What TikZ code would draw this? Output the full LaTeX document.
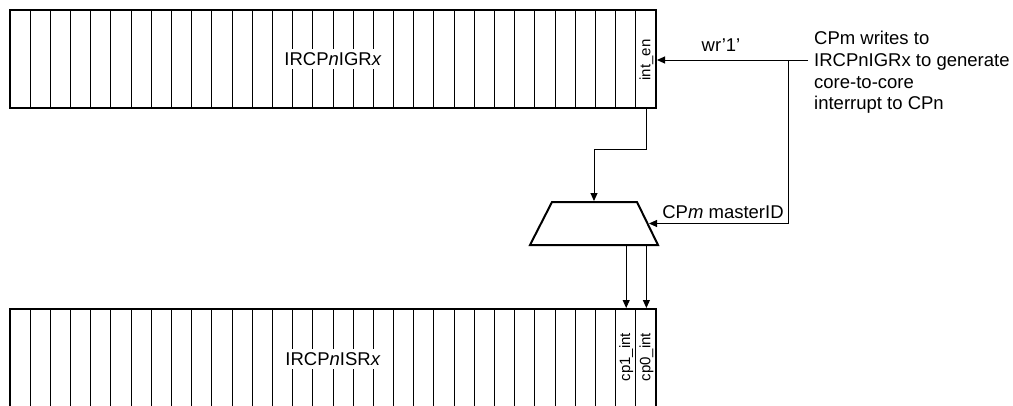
\documentclass[tikz,border=0pt]{standalone}
\usepackage{fontspec}
\setmainfont{Liberation Sans}
\usetikzlibrary{arrows.meta}
\begin{document}
\begin{tikzpicture}[x=1pt,y=-1pt,
  cellline/.style={line width=1pt},
  regbox/.style={draw,line width=2pt,inner sep=0pt,minimum width=646pt},
  conn/.style={line width=1pt,-{Triangle[length=8pt,width=7pt]}},
  muxshape/.style={draw,line width=2pt,line join=miter},
  lbl/.style={font=\fontsize{18.5}{21.7}\selectfont},
  namelbl/.style={lbl,fill=white,inner sep=3pt},
  bitlbl/.style={font=\fontsize{15}{18}\selectfont,rotate=90,inner sep=0pt}]
\useasboundingbox (0,0) rectangle (1013,405);
\begin{scope}
\clip (0,0) rectangle (1013,405);
% ---- top register IRCPnIGRx
\foreach \i in {1,...,31} \draw[cellline] ({10+\i*20.1875},10) -- ({10+\i*20.1875},108);
\node[namelbl] (igrname) at (333,59) {IRCP\textit{n}IGR\textit{x}};
\node[regbox,minimum height=98pt] (igr) at (333,59) {};
\node[bitlbl] (inten) at (646.4,60) {int\_en};
% ---- bottom register IRCPnISRx
\foreach \i in {1,...,31} \draw[cellline] ({10+\i*20.1875},309) -- ({10+\i*20.1875},420);
\node[namelbl] (isrname) at (333,359) {IRCP\textit{n}ISR\textit{x}};
\node[regbox,minimum height=111pt] (isr) at (333,364.5) {};
\node[bitlbl] (cpone) at (626.2,357) {cp1\_int};
\node[bitlbl] (cpzero) at (646.4,357) {cp0\_int};
\end{scope}
% ---- multiplexer
\coordinate (muxtop) at (594,202);
\coordinate (muxbot) at (594,245);
\coordinate (muxright) at (649,223.5);
\draw[muxshape] (552,202) -- (637,202) -- (658,245) -- (530,245) -- cycle;
% ---- connectors
\coordinate (src) at (808,60);
\coordinate (br) at (788,60);
\draw[conn] (src) -- (igr.east |- inten);
\draw[conn] (br) |- (muxright);
\draw[conn] (inten |- igr.south) -- ++(0,40) -| ([yshift=1pt]muxtop);
\draw[conn] (cpone |- muxbot) -- (cpone |- isr.north);
\draw[conn] (cpzero |- muxbot) -- (cpzero |- isr.north);
% ---- labels
\node[lbl] (wr) at (721,45) {wr’1’};
\node[lbl] (mid) at (723,212) {CP\textit{m} masterID};
\node[lbl,align=left,anchor=north west,inner sep=0pt] (note) at (814,31)
  {CPm writes to\\IRCPnIGRx to generate\\core-to-core\\interrupt to CPn};
\end{tikzpicture}
\end{document}
